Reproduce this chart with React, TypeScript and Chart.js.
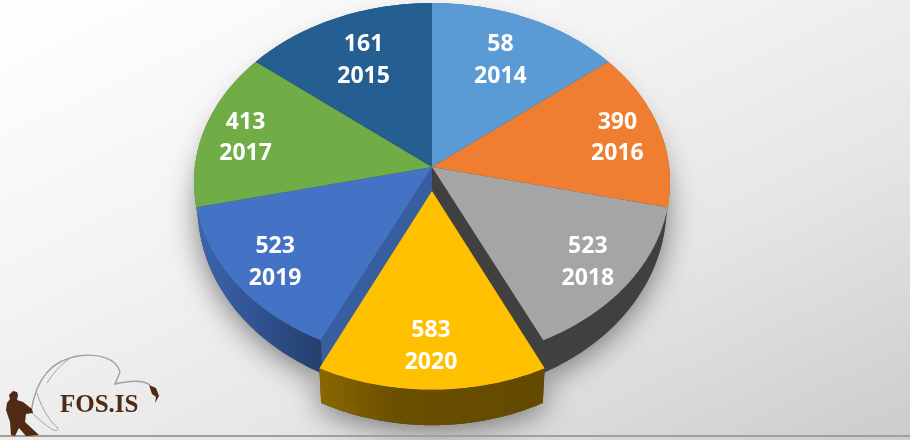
import React, { useEffect, useRef } from "react";
import { Chart, registerables } from "chart.js";

Chart.register(...registerables);

// Clockwise from 12 o'clock
const years = ["2014", "2016", "2018", "2020", "2019", "2017", "2015"];
const values = [58, 390, 523, 583, 523, 413, 161];
// The reference draws seven equal slices whatever their printed value
const sliceWeights = [1, 1, 1, 1, 1, 1, 1];
const sliceOffsets = [0, 0, 0, 27.5, 0, 0, 0];
const topColors = ["#5b9bd5", "#f07e31", "#a5a5a5", "#ffc000", "#4472c4", "#70ad47", "#255e91"];
const sideLeft = ["#3c6d99", "#a85622", "#404040", "#8a6800", "#3b66ae", "#4e7a32", "#1a4267"];
const sideMid = ["#3c6d99", "#a85622", "#404040", "#6a4f00", "#33589a", "#4e7a32", "#1a4267"];
const sideRight = ["#3c6d99", "#a85622", "#404040", "#644a00", "#253f6d", "#4e7a32", "#1a4267"];
const labelNudgeX = [0, 2, 0, -1, -1, -3, 0];
const labelNudgeY = [0, 2.5, 2.5, -1.5, 2.5, 2.5, 0];

// Perspective projection of the unit disc
const CX = 432, CY = 167, A = 237.2, B = 177.7, K = 0.0838, DEPTH_M = 0.0155;
const project = (u: number, v: number, base: boolean): [number, number] => {
  const w = 1 - K * v + (base ? DEPTH_M : 0);
  return [CX + (A * u) / w, CY + (B * v + (base ? 25 + 10 * v : 0)) / w];
};

type Geo = { start: number; end: number; dx: number; dy: number };
const geoOf = (arc: any): Geo => {
  const d = (arc.options.offset || 0) / arc.outerRadius;
  const mid = (arc.startAngle + arc.endAngle) / 2;
  return { start: arc.startAngle, end: arc.endAngle, dx: d * Math.cos(mid), dy: d * Math.sin(mid) };
};
const pt = (g: Geo, a: number, r: number, base: boolean) =>
  project(g.dx + r * Math.cos(a), g.dy + r * Math.sin(a), base);

const wedge = (ctx: CanvasRenderingContext2D, g: Geo, base: boolean) => {
  const [ax, ay] = pt(g, 0, 0, base);
  ctx.moveTo(ax, ay);
  for (let i = 0; i <= 48; i++) {
    const [x, y] = pt(g, g.start + ((g.end - g.start) * i) / 48, 1, base);
    ctx.lineTo(x, y);
  }
  ctx.closePath();
};
const rimSide = (ctx: CanvasRenderingContext2D, g: Geo) => {
  ctx.beginPath();
  for (let i = 0; i <= 48; i++) {
    const [x, y] = pt(g, g.start + ((g.end - g.start) * i) / 48, 1, false);
    i ? ctx.lineTo(x, y) : ctx.moveTo(x, y);
  }
  for (let i = 48; i >= 0; i--) {
    const [x, y] = pt(g, g.start + ((g.end - g.start) * i) / 48, 1, true);
    ctx.lineTo(x, y);
  }
  ctx.closePath();
};
const radialFace = (ctx: CanvasRenderingContext2D, g: Geo, a: number, fill: string) => {
  const p = [pt(g, 0, 0, false), pt(g, a, 1, false), pt(g, a, 1, true), pt(g, 0, 0, true)];
  ctx.beginPath();
  p.forEach(([x, y], i) => (i ? ctx.lineTo(x, y) : ctx.moveTo(x, y)));
  ctx.closePath();
  ctx.fillStyle = fill;
  ctx.fill();
};

const drawSide = (ctx: CanvasRenderingContext2D, g: Geo, i: number) => {
  const xs = [pt(g, g.start, 1, false)[0], pt(g, g.end, 1, false)[0]];
  const grad = ctx.createLinearGradient(Math.min(...xs), 0, Math.max(...xs), 0);
  grad.addColorStop(0, sideLeft[i]);
  grad.addColorStop(0.35, sideMid[i]);
  grad.addColorStop(1, sideRight[i]);
  rimSide(ctx, g);
  ctx.fillStyle = grad;
  ctx.fill();
};

const pie3d = {
  id: "pie3d",
  beforeDatasetsDraw(chart: any) {
    const ctx: CanvasRenderingContext2D = chart.ctx;
    const arcs = chart.getDatasetMeta(0).data;
    const geos: Geo[] = arcs.map(geoOf);
    const exploded = sliceOffsets.findIndex((o) => o > 0);
    ctx.save();

    // soft ground shadow
    ctx.shadowColor = "rgba(0,0,0,0.5)";
    ctx.shadowBlur = 30;
    ctx.shadowOffsetY = 5;
    ctx.fillStyle = "#404040";
    ctx.beginPath();
    geos.forEach((g, i) => { if (i !== exploded) wedge(ctx, g, true); });
    ctx.fill();
    rimSide(ctx, geos[exploded]);
    ctx.fill();
    ctx.shadowColor = "transparent";
    ctx.shadowBlur = 0;
    ctx.shadowOffsetY = 0;

    // rims and cut faces of the slices that stay in place
    geos.forEach((g, i) => { if (i !== exploded) drawSide(ctx, g, i); });
    radialFace(ctx, geos[2], geos[2].end, "#404040");
    radialFace(ctx, geos[4], geos[4].start, "#375f9f");

    // top faces
    geos.forEach((g, i) => {
      if (i === exploded) return;
      ctx.beginPath();
      wedge(ctx, g, false);
      ctx.fillStyle = arcs[i].options.backgroundColor;
      ctx.fill();
    });

    // the pulled-out slice
    drawSide(ctx, geos[exploded], exploded);
    ctx.beginPath();
    wedge(ctx, geos[exploded], false);
    ctx.fillStyle = arcs[exploded].options.backgroundColor;
    ctx.fill();

    // labels
    ctx.fillStyle = "#ffffff";
    ctx.font = '700 23px "Open Sans"';
    ctx.textAlign = "center";
    ctx.textBaseline = "middle";
    geos.forEach((g, i) => {
      const mid = (g.start + g.end) / 2;
      const r = i === 0 || i === years.length - 1 ? 0.7 : 0.805;
      const [x0, y0] = pt(g, mid, r, false);
      const x = x0 + labelNudgeX[i];
      const y = y0 + labelNudgeY[i];
      ctx.fillText(String(values[i]), x, y - 16);
      ctx.fillText(years[i], x, y + 15.5);
    });
    ctx.restore();
    return false;
  },
  afterDraw(chart: any) {
    const ctx: CanvasRenderingContext2D = chart.ctx;
    ctx.save();
    // footer rule
    ctx.fillStyle = "#a89c93";
    ctx.fillRect(0, 435, 910, 2);
    // fishing rod and line
    ctx.strokeStyle = "#a89c93";
    ctx.lineWidth = 1.4;
    ctx.beginPath();
    ctx.moveTo(31, 412);
    ctx.bezierCurveTo(36, 378, 52, 360, 78, 356);
    ctx.bezierCurveTo(98, 353, 116, 358, 120, 372);
    ctx.lineTo(115, 384);
    ctx.bezierCurveTo(128, 381, 142, 379, 150, 385);
    ctx.stroke();
    ctx.lineWidth = 1;
    ctx.beginPath();
    ctx.moveTo(37, 393);
    ctx.bezierCurveTo(42, 410, 52, 424, 58, 428);
    ctx.bezierCurveTo(58, 434, 50, 430, 31, 412);
    ctx.moveTo(69, 359);
    ctx.bezierCurveTo(60, 365, 52, 375, 47, 383);
    ctx.stroke();
    // fisherman and fish
    ctx.fillStyle = "#4f2a14";
    const man = [[11,393],[13,391],[17,392],[18,395],[17,400],[23,402],[32,409],[33,413],[26,414],[25,422],[39,435],[26,436],[19,428],[15,436],[11,435],[10,422],[6,410],[7,403],[10,399],[9,395]];
    ctx.beginPath();
    man.forEach(([x, y], i) => (i ? ctx.lineTo(x, y) : ctx.moveTo(x, y)));
    ctx.closePath();
    ctx.fill();
    const fish = [[149,385],[156,388],[159,396],[155,403],[156,397],[152,394]];
    ctx.beginPath();
    fish.forEach(([x, y], i) => (i ? ctx.lineTo(x, y) : ctx.moveTo(x, y)));
    ctx.closePath();
    ctx.fill();
    ctx.font = '700 25px "Liberation Serif"';
    ctx.textAlign = "left";
    ctx.textBaseline = "alphabetic";
    ctx.fillText("FOS.IS", 60, 412);
    ctx.restore();
  },
};

export default function App() {
  const ref = useRef<HTMLCanvasElement>(null);
  useEffect(() => {
    const chart = new Chart(ref.current!, {
      type: "pie",
      data: {
        labels: years,
        datasets: [{ data: sliceWeights, backgroundColor: topColors, offset: sliceOffsets, borderWidth: 0 }],
      },
      options: {
        responsive: false,
        animation: false,
        plugins: { legend: { display: false }, tooltip: { enabled: false } },
      },
      plugins: [pie3d],
    } as any);
    return () => chart.destroy();
  }, []);
  return (
    <div
      style={{
        position: "fixed",
        left: 0,
        top: 0,
        width: 910,
        height: 440,
        overflow: "hidden",
        background: "linear-gradient(155deg, #ffffff 0%, #f4f4f4 35%, #e6e6e6 65%, #cccccc 100%)",
      }}
    >
      <canvas ref={ref} width={910} height={440} style={{ display: "block" }} />
    </div>
  );
}
